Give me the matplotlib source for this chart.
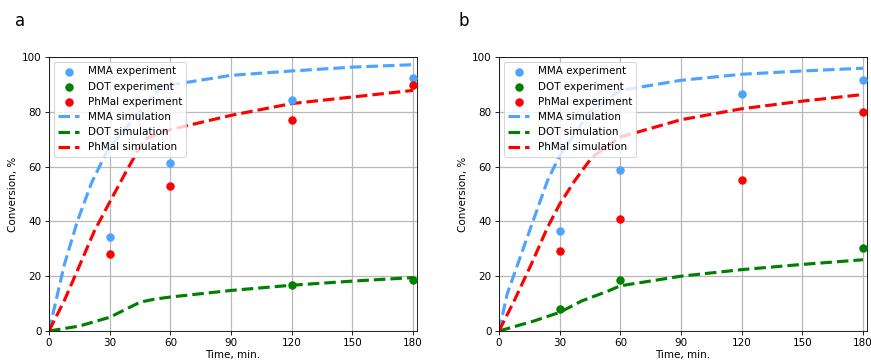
import matplotlib
matplotlib.use("Agg")
import matplotlib.pyplot as plt

# ---------------- data ----------------
# panel a – experiments
a_mma_exp_t = [30, 60, 120, 180]
a_mma_exp = [34.3, 61.3, 84.4, 92.5]
a_dot_exp_t = [120, 180]
a_dot_exp = [16.9, 18.5]
a_ph_exp_t = [30, 60, 120, 180]
a_ph_exp = [28.2, 52.8, 77.1, 89.8]

# panel a – simulations
a_mma_sim_t = [0, 7.5, 14, 21, 28, 30, 55, 60, 90, 120, 150, 180]
a_mma_sim = [0, 24, 40, 54, 64.6, 67, 89, 89.8, 93.3, 94.9, 96.3, 97.2]
a_dot_sim_t = [0, 15, 30, 45, 52, 60, 90, 120, 150, 180]
a_dot_sim = [0, 1.8, 5, 10.5, 11.6, 12.4, 14.8, 16.7, 18.2, 19.5]
a_ph_sim_t = [0, 7.5, 14, 22.5, 30, 37.5, 44, 47.5, 60, 90, 120, 150, 180]
a_ph_sim = [0, 11, 22, 36.6, 47, 57.3, 65.9, 70.1, 73.5, 78.7, 83, 85.4, 87.8]

# panel b – experiments
b_mma_exp_t = [30, 60, 120, 180]
b_mma_exp = [36.5, 58.9, 86.5, 91.6]
b_dot_exp_t = [30, 60, 180]
b_dot_exp = [8.0, 18.6, 30.2]
b_ph_exp_t = [30, 60, 120, 180]
b_ph_exp = [29.2, 40.9, 55.0, 80.0]

# panel b – simulations
b_mma_sim_t = [0, 4, 11, 17.5, 24, 30, 45, 60, 90, 120, 150, 180]
b_mma_sim = [0, 13.4, 28, 41.5, 54.9, 64, 80, 87.8, 91.5, 93.7, 94.9, 95.9]
b_dot_sim_t = [0, 17.5, 30, 41, 54, 60, 90, 120, 150, 180]
b_dot_sim = [0, 3.7, 6.8, 11, 14.6, 16.5, 20, 22.4, 24.3, 26]
b_ph_sim_t = [0, 7.5, 16, 24, 30, 37.5, 46, 60, 90, 120, 150, 180]
b_ph_sim = [0, 11, 24.4, 37.8, 46.3, 54.9, 63.4, 70.8, 77.1, 81.1, 83.9, 86.3]

xticks = [0, 30, 60, 90, 120, 150, 180]
yticks = [0, 20, 40, 60, 80, 100]

c_mma = "#4da3ff"
c_dot = "green"
c_ph = "red"

fig = plt.figure(figsize=(871 / 75, 362 / 75), dpi=75)
axA = fig.add_axes([49 / 871, 31 / 362, 368 / 871, 274 / 362])
axB = fig.add_axes([499 / 871, 31 / 362, 368 / 871, 274 / 362])

panels = [
    (axA, a_mma_exp_t, a_mma_exp, a_dot_exp_t, a_dot_exp, a_ph_exp_t, a_ph_exp,
     a_mma_sim_t, a_mma_sim, a_dot_sim_t, a_dot_sim, a_ph_sim_t, a_ph_sim),
    (axB, b_mma_exp_t, b_mma_exp, b_dot_exp_t, b_dot_exp, b_ph_exp_t, b_ph_exp,
     b_mma_sim_t, b_mma_sim, b_dot_sim_t, b_dot_sim, b_ph_sim_t, b_ph_sim),
]

for (ax, mt, mv, dt, dv, pt, pv, mst, msv, dst, dsv, pst, psv) in panels:
    ax.grid(True, color="#b8b8b8", lw=1.2)
    ax.set_axisbelow(True)
    h1 = ax.scatter(mt, mv, s=50, color=c_mma, label="MMA experiment", zorder=3)
    h2 = ax.scatter(dt, dv, s=50, color=c_dot, label="DOT experiment", zorder=3)
    h3 = ax.scatter(pt, pv, s=50, color=c_ph, label="PhMal experiment", zorder=3)
    h4, = ax.plot(mst, msv, "--", color=c_mma, lw=3, label="MMA simulation", zorder=2)
    h5, = ax.plot(dst, dsv, "--", color=c_dot, lw=3, label="DOT simulation", zorder=2)
    h6, = ax.plot(pst, psv, "--", color=c_ph, lw=3, label="PhMal simulation", zorder=2)
    ax.set_xlim(0, 182)
    ax.set_ylim(0, 100)
    ax.set_xticks(xticks)
    ax.set_yticks(yticks)
    ax.set_xlabel("Time, min.", labelpad=2)
    ax.set_ylabel("Conversion, %")
    ax.legend(handles=[h1, h2, h3, h4, h5, h6], loc="upper left")

fig.text(15 / 871, 1 - 26 / 362, "a", fontsize=16, va="baseline")
fig.text(458 / 871, 1 - 26 / 362, "b", fontsize=16, va="baseline")

fig.savefig("out.png", dpi=75)
